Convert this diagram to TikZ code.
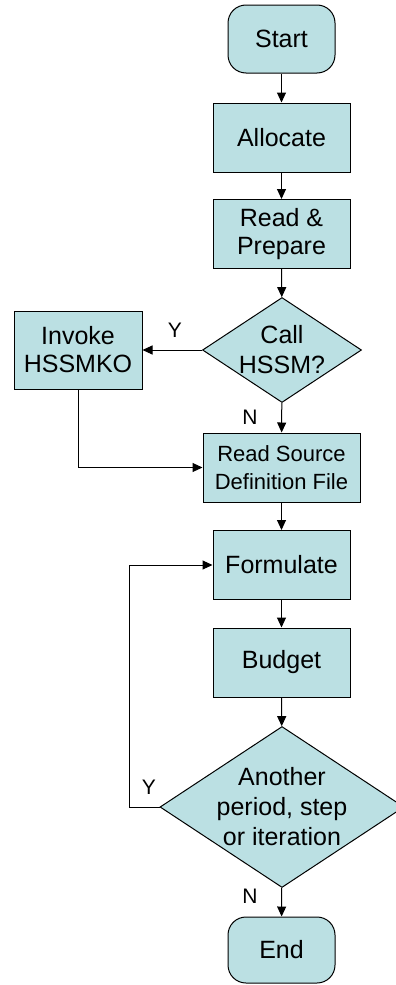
\documentclass[tikz,border=0pt]{standalone}
\usepackage{fontspec}
\setmainfont{Liberation Sans}
\usetikzlibrary{shapes.geometric,arrows.meta}
\definecolor{boxfill}{HTML}{BBE0E3}

\begin{document}
\begin{tikzpicture}[x=1pt,y=-1pt,
    line width=1pt,
    box/.style={draw,fill=boxfill,minimum width=137pt,minimum height=69pt,
      inner sep=0pt,align=center,font=\fontsize{25}{28}\selectfont},
    term/.style={draw,fill=boxfill,rounded corners=18pt,
      minimum width=107pt,minimum height=68pt,inner sep=0pt,font=\fontsize{25}{28}\selectfont},
    decision/.style={draw,fill=boxfill,diamond,inner sep=0pt},
    dtext/.style={align=center,inner sep=0pt,font=\fontsize{25}{30}\selectfont},
    yn/.style={font=\fontsize{21}{24}\selectfont,inner sep=0pt},
    arr/.style={-{Triangle[length=10pt,width=9pt]}}]
        \clip (0,0) rectangle (396,985);
        % top of the chart
        \node[term] (start) at (281.5,39) {Start};
        \node[box] (alloc) at (281.5,137.5) {Allocate};
        \node[box] (prep) at (281.5,234) {Read \&\\Prepare};
        \node[decision,minimum width=159pt,minimum height=105pt] (call) at (282,350) {};
        \node[dtext,font=\fontsize{25}{30}\selectfont] at (call.center) {Call\\HSSM?};
        \node[box,minimum width=128pt,minimum height=78pt] (invoke) at (78,350) {Invoke\\HSSMKO};
        \node[box,minimum width=157pt,font=\fontsize{22}{28}\selectfont] (srcdef) at (281.5,467.5) {Read Source\\Definition File};
        % loop part
        \node[box] (form) at (281.5,565) {Formulate};
        \node[box] (budget) at (281.5,662.5) {Budget};
        \node[decision,minimum width=244pt,minimum height=161pt] (again) at (282,807) {};
        \node[dtext] at (again.center) {Another\\period, step\\or iteration};
        \node[term,minimum height=66pt] (finish) at (281.5,950) {End};
        % labels
        \node[yn] (ycall) at (175,330) {Y};
        \node[yn] (ncall) at (250,417) {N};
        \node[yn] (yagain) at (149,787) {Y};
        \node[yn] (nagain) at (250,896) {N};
        % connectors
        \draw[arr] (start) -- (alloc);
        \draw[arr] (alloc) -- (prep);
        \draw[arr] (prep) -- (call);
        \draw[arr] (call) -- (invoke);
        \draw[arr] (call) -- (srcdef);
        \draw[arr] (invoke) |- (srcdef);
        \draw[arr] (srcdef) -- (form);
        \draw[arr] (form) -- (budget);
        \draw[arr] (budget) -- (again);
        \draw[arr] (again.west) -- ++(-30,0) |- (form);
        \draw[arr] (again) -- (finish);
\end{tikzpicture}
\end{document}
